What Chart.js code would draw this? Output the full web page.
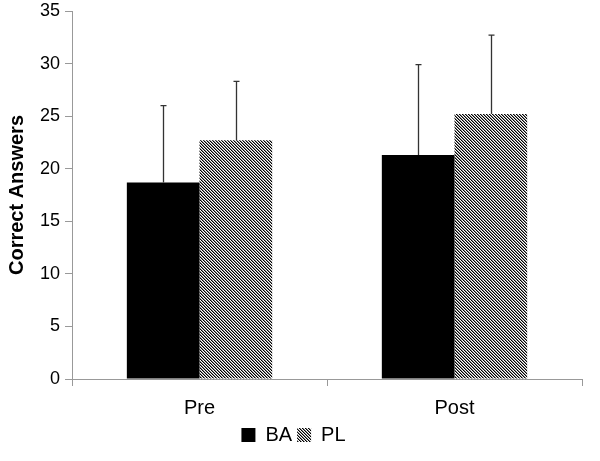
<!DOCTYPE html>
<html>
<head>
<meta charset="utf-8">
<script src="https://cdn.jsdelivr.net/npm/chart.js@4/dist/chart.umd.min.js"></script>
<style>
    html, body { margin: 0; padding: 0; background: #fff; }
    #wrap { width: 600px; height: 461px; }
</style>
</head>
<body>
<div id="wrap"><canvas id="chart" width="600" height="461"></canvas></div>
<script>
// --------------------------- Data

const categories = ['Pre', 'Post'];
const ba_values = [18.7, 21.3];
const ba_errors = [7.3, 8.6];
const pl_values = [22.7, 25.2];
const pl_errors = [5.6, 7.5];
const y_ticks = [0, 5, 10, 15, 20, 25, 30, 35];

// --------------------------- Styling helpers

// fine diagonal hatch (top-left to bottom-right), like the PL bars
function makeHatch() {
    const c = document.createElement('canvas');
    c.width = 3;
    c.height = 3;
    const g = c.getContext('2d');
    g.fillStyle = '#fff';
    g.fillRect(0, 0, 3, 3);
    for (let i = 0; i < 3; i++) {
        g.fillStyle = '#000';
        g.fillRect(i, i, 1, 1);
        g.fillStyle = '#888';
        g.fillRect((i + 1) % 3, i, 1, 1);
    }
    return g.createPattern(c, 'repeat');
}

// draws only the upper half of the error bars
const errorBars = {
    id: 'errorBars',
    afterDatasetsDraw(chart) {
        const ctx = chart.ctx;
        const y = chart.scales.y;
        ctx.save();
        ctx.strokeStyle = '#333';
        ctx.lineWidth = 1.3;
        chart.data.datasets.forEach((ds, i) => {
            const meta = chart.getDatasetMeta(i);
            meta.data.forEach((bar, j) => {
                const top = y.getPixelForValue(ds.data[j] + ds.errors[j]);
                const x = Math.round(bar.x) + 0.5;
                ctx.beginPath();
                ctx.moveTo(x, bar.y);
                ctx.lineTo(x, top);
                ctx.moveTo(x - 3, top);
                ctx.lineTo(x + 3, top);
                ctx.stroke();
            });
        });
        ctx.restore();
    }
};

const font = "'Liberation Sans', Arial, Helvetica, sans-serif";

const config = {
    type: 'bar',
    data: {
        labels: categories,
        datasets: [
            {
                label: 'BA',
                data: ba_values,
                errors: ba_errors,
                backgroundColor: '#000',
                borderWidth: 0,
            },
            {
                label: 'PL',
                data: pl_values,
                errors: pl_errors,
                backgroundColor: makeHatch(),
                borderWidth: 0,
            }
        ]
    },
    options: {
        responsive: false,
        animation: false,
        layout: {
            padding: { top: 0, right: 18, left: 5, bottom: 6 }
        },
        plugins: {
            legend: {
                position: 'bottom',
                labels: {
                    boxWidth: 14,
                    boxHeight: 14,
                    padding: 5,
                    color: '#000',
                    font: { family: font, size: 20 },
                },
            },
            tooltip: { enabled: false },
        },
        datasets: {
            bar: {
                categoryPercentage: 0.57,
                barPercentage: 1.0,
            }
        },
        scales: {
            x: {
                // pull the legend up closer to the category labels
                afterFit: function(axis) {
                    axis.height -= 10;
                },
                grid: {
                    drawOnChartArea: false,
                    tickLength: 7,
                    color: '#999',
                    offset: true,
                },
                border: { color: '#999', width: 1 },
                ticks: {
                    color: '#000',
                    padding: 10,
                    font: { family: font, size: 20 },
                },
            },
            y: {
                min: 0,
                max: 35,
                afterBuildTicks: function(axis) {
                    axis.ticks = y_ticks.map(v => ({ value: v }));
                },
                afterFit: function(axis) {
                    axis.paddingTop = 11;
                },
                grid: {
                    drawOnChartArea: false,
                    tickLength: 7,
                    color: '#999',
                },
                border: { color: '#999', width: 1 },
                ticks: {
                    color: '#000',
                    padding: 5,
                    font: { family: font, size: 18 },
                },
                title: {
                    display: true,
                    text: 'Correct Answers',
                    color: '#000',
                    padding: { top: 0, bottom: 6 },
                    font: { family: font, size: 20, weight: 'bold' },
                }
            }
        }
    },
    plugins: [errorBars],
};

new Chart(document.getElementById('chart'), config);
</script>
</body>
</html>
